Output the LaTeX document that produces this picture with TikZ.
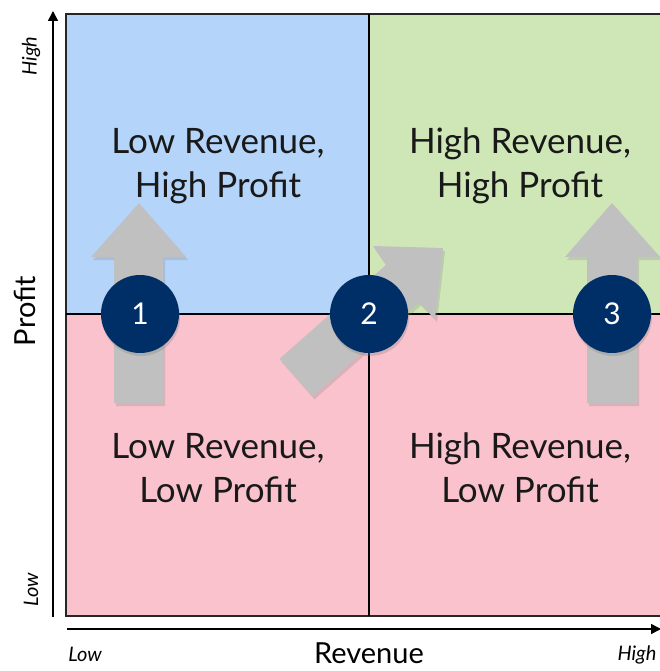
\documentclass[tikz,border=0pt]{standalone}
\usepackage{fontspec}
\setmainfont{Lato}
\usetikzlibrary{shadows,arrows.meta}
\definecolor{qblue}{RGB}{180,212,250}
\definecolor{qgreen}{RGB}{207,231,183}
\definecolor{qpink}{RGB}{249,194,205}
\definecolor{navy}{RGB}{0,46,102}
\definecolor{agray}{RGB}{192,192,192}
\begin{document}
\begin{tikzpicture}[x=1pt,y=-1pt,
  quadtext/.style={align=center,font=\fontsize{35}{44}\selectfont,text=black!90},
  axlab/.style={font=\fontsize{20}{22}\selectfont\itshape},
  axtitle/.style={font=\fontsize{29}{31}\selectfont},
  bigarrow/.style={fill=agray,draw=none,drop shadow={opacity=0.25,shadow xshift=2pt,shadow yshift=-3pt}},
  numcircle/.style={circle,fill=navy,minimum size=78pt,inner sep=0pt,text=white,font=\fontsize{30}{30}\selectfont,drop shadow={opacity=0.3,shadow xshift=1pt,shadow yshift=-3pt}}]
\useasboundingbox (0,0) rectangle (660,671);
% quadrants
\fill[qblue] (66,14) rectangle (369,314);
\fill[qgreen] (369,14) rectangle (662,314);
\fill[qpink] (66,314) rectangle (662,616);
\draw[line width=1.5pt,black!85] (66,14) rectangle (662,616);
\draw[line width=1.5pt] (369,14) -- (369,616);
\draw[line width=1.5pt] (66,314) -- (662,314);
% axes
\coordinate (yb) at (53,617);
\coordinate (yt) at (53,11);
\coordinate (xl) at (67,629);
\coordinate (xr) at (661,629);
\draw[line width=1.5pt,-{Triangle[length=10pt,width=10pt]}] (yb) -- (yt);
\draw[line width=1.5pt,-{Triangle[length=10pt,width=10pt]}] (xl) -- (xr);
\node[axlab,rotate=90] (yhigh) at (31,56) {High};
\node[axlab,rotate=90] (ylow) at (31,590) {Low};
\node[axlab] (xlow) at (85,654) {Low};
\node[axlab] (xhigh) at (637,655) {High};
\node[axtitle] (xtitle) at (369,653) {Revenue};
\node[axtitle,rotate=90] (ytitle) at (25,311) {Profit};
% quadrant texts
\node[quadtext] (q1) at (218,166) {Low Revenue,\\High Profit};
\node[quadtext] (q2) at (520,166) {High Revenue,\\High Profit};
\node[quadtext] (q3) at (218,468) {Low Revenue,\\Low Profit};
\node[quadtext] (q4) at (520,468) {High Revenue,\\Low Profit};
% arrows
\fill[bigarrow] (114,403) -- (163,403) -- (163,257) -- (186,257) -- (139,203) -- (91,257) -- (114,257) -- cycle;
\fill[bigarrow] (587,403) -- (637,403) -- (637,257) -- (660,257) -- (612,203) -- (565,257) -- (587,257) -- cycle;
\fill[bigarrow] (279.5,358.8) -- (312.5,396.3) -- (419,302.4) -- (435,319) -- (443,248) -- (373,246) -- (386,264.9) -- cycle;
% circles
\node[numcircle] (c1) at (140,314) {1};
\node[numcircle] (c2) at (369,314) {2};
\node[numcircle] (c3) at (612,314) {3};
\end{tikzpicture}
\end{document}
